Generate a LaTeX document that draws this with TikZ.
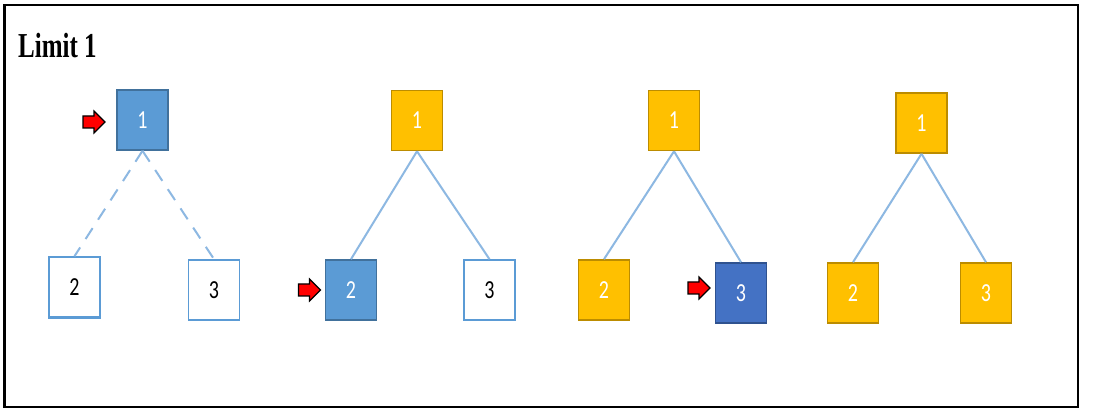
\documentclass[tikz,border=0pt]{standalone}
\usepackage{fontspec}
\setmainfont{Liberation Serif}
\newfontfamily\numfont{Carlito}
\definecolor{nblue}{HTML}{5B9BD5}
\definecolor{nbluedk}{HTML}{41719C}
\definecolor{dblue}{HTML}{4472C4}
\definecolor{dbluedk}{HTML}{2F528F}
\definecolor{nyel}{HTML}{FFC000}
\definecolor{nyeldk}{HTML}{BC8C00}
\definecolor{edgec}{HTML}{8DB8E2}
\tikzset{
  box/.style={rectangle, minimum width=51pt, minimum height=60pt, inner sep=0pt, line width=1.6pt,
     font=\numfont\fontsize{20}{20}\selectfont},
  bluebox/.style={box, fill=nblue, draw=nbluedk, text=white},
  darkbox/.style={box, fill=dblue, draw=dbluedk, text=white},
  yelbox/.style={box, fill=nyel, draw=nyeldk, text=white},
  whitebox/.style={box, fill=white, draw=nblue, text=black},
  link/.style={draw=edgec, line width=2pt},
  dlink/.style={link, dash pattern=on 13pt off 10pt},
  redarrow/.pic={
    \draw[fill=red, draw=black, line width=1.2pt, line join=miter]
      (-11,-6) -- (0,-6) -- (0,-11) -- (11,0) -- (0,11) -- (0,6) -- (-11,6) -- cycle;
  },
}
\newcommand{\dg}[1]{\scalebox{1}[1.3]{#1}}
\begin{document}
\begin{tikzpicture}[x=1pt,y=-1pt]
\useasboundingbox (0,0) rectangle (1093,411);
\fill[white] (0,0) rectangle (1093,411);
\draw[line width=2.5pt, black] (4.5,5) rectangle (1078,407);
\node[anchor=base west, inner sep=0pt] (title) at (18,58)
  {\scalebox{1}[1.4]{\fontsize{25}{25}\selectfont\bfseries Limit 1}};

% tree 1
\node[bluebox] (a1) at (142.5,120) {\dg{1}};
\node[whitebox] (a2) at (74.5,287) {\dg{2}};
\node[whitebox] (a3) at (214,290) {\dg{3}};
\draw[dlink] (a1.south) -- (a2.north);
\draw[dlink] (a1.south) -- (a3.north);
\draw[nblue, line width=2.5pt] (a2.south west) -- (a2.south east);
\pic at (94,122) {redarrow};

% tree 2
\node[yelbox] (b1) at (417,120.5) {\dg{1}};
\node[bluebox] (b2) at (351,290) {\dg{2}};
\node[whitebox] (b3) at (489.5,290) {\dg{3}};
\draw[link] (b1.south) -- (b2.north);
\draw[link] (b1.south) -- (b3.north);
\pic at (309.5,290) {redarrow};

% tree 3
\node[yelbox] (c1) at (674,120.5) {\dg{1}};
\node[yelbox] (c2) at (604,290) {\dg{2}};
\node[darkbox] (c3) at (741,293) {\dg{3}};
\draw[link] (c1.south) -- (c2.north);
\draw[link] (c1.south) -- (c3.north);
\pic at (699,288) {redarrow};

% tree 4
\node[yelbox] (d1) at (921.5,123) {\dg{1}};
\node[yelbox] (d2) at (853,293) {\dg{2}};
\node[yelbox] (d3) at (986,293) {\dg{3}};
\draw[link] (d1.south) -- (d2.north);
\draw[link] (d1.south) -- (d3.north);
\end{tikzpicture}
\end{document}
